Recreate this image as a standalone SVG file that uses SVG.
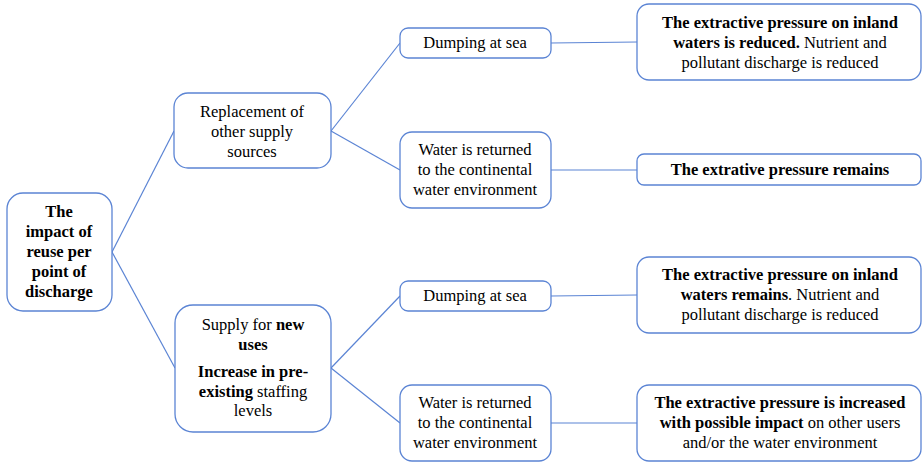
<svg xmlns="http://www.w3.org/2000/svg" width="922" height="462" viewBox="0 0 922 462" font-family="'Times New Roman', 'Liberation Serif', serif">
<style>
.box{fill:#fff;stroke:#5b84d4;stroke-width:1.3}
.ln{stroke:#5b84d4;stroke-width:1.2;fill:none}
.t{font-family:'Times New Roman','Liberation Serif',serif;font-size:16.5px;fill:#000;text-anchor:middle}
.b{font-weight:bold}
</style>
<rect width="922" height="462" fill="#fff"/>
<g id="connectors">
<path class="ln" d="M112,252 L174,131"/>
<path class="ln" d="M112,252 L175,368"/>
<path class="ln" d="M331,131 L400,43"/>
<path class="ln" d="M331,131 L400,170"/>
<path class="ln" d="M331,368 L400,296"/>
<path class="ln" d="M331,368 L400,423"/>
<path class="ln" d="M551,43 L637,42"/>
<path class="ln" d="M551,170 L637,170"/>
<path class="ln" d="M551,296 L637,295"/>
<path class="ln" d="M551,423 L637,423"/>
</g>
<g id="root">
<rect class="box" x="7" y="193" width="105" height="118" rx="16"/>
<text class="t b" x="59" y="217">The</text>
<text class="t b" x="59" y="237">impact of</text>
<text class="t b" x="59" y="257">reuse per</text>
<text class="t b" x="59" y="277">point of</text>
<text class="t b" x="59" y="297">discharge</text>
</g>
<g id="replacement">
<rect class="box" x="174" y="93" width="157" height="75" rx="14"/>
<text class="t" x="252" y="117">Replacement of</text>
<text class="t" x="252" y="137">other supply</text>
<text class="t" x="252" y="157">sources</text>
</g>
<g id="supply">
<rect class="box" x="175" y="305" width="156" height="127" rx="18"/>
<text class="t" x="253" y="330">Supply for <tspan class="b">new</tspan></text>
<text class="t b" x="253" y="350">uses</text>
<text class="t b" x="253" y="377">Increase in pre-</text>
<text class="t" x="253" y="397"><tspan class="b">existing</tspan> staffing</text>
<text class="t" x="253" y="416">levels</text>
</g>
<g id="dump1">
<rect class="box" x="400" y="28" width="151" height="30" rx="8"/>
<text class="t" x="475" y="48">Dumping at sea</text>
</g>
<g id="water1">
<rect class="box" x="400" y="132" width="151" height="76" rx="12"/>
<text class="t" x="475" y="155">Water is returned</text>
<text class="t" x="475" y="175">to the continental</text>
<text class="t" x="475" y="195">water environment</text>
</g>
<g id="dump2">
<rect class="box" x="400" y="281" width="151" height="30" rx="8"/>
<text class="t" x="475" y="301">Dumping at sea</text>
</g>
<g id="water2">
<rect class="box" x="400" y="385" width="151" height="76" rx="12"/>
<text class="t" x="475" y="408">Water is returned</text>
<text class="t" x="475" y="428">to the continental</text>
<text class="t" x="475" y="448">water environment</text>
</g>
<g id="out1">
<rect class="box" x="637" y="4" width="284" height="76" rx="12"/>
<text class="t b" x="780" y="28">The extractive pressure on inland</text>
<text class="t" x="780" y="48"><tspan class="b">waters is reduced.</tspan> Nutrient and</text>
<text class="t" x="780" y="68">pollutant discharge is reduced</text>
</g>
<g id="out2">
<rect class="box" x="637" y="154" width="284" height="31" rx="7"/>
<text class="t b" x="780" y="175">The extrative pressure remains</text>
</g>
<g id="out3">
<rect class="box" x="637" y="257" width="284" height="76" rx="12"/>
<text class="t b" x="780" y="280">The extractive pressure on inland</text>
<text class="t" x="780" y="300"><tspan class="b">waters remains</tspan>. Nutrient and</text>
<text class="t" x="780" y="320">pollutant discharge is reduced</text>
</g>
<g id="out4">
<rect class="box" x="637" y="385" width="284" height="76" rx="12"/>
<text class="t b" x="780" y="408">The extractive pressure is increased</text>
<text class="t" x="780" y="428"><tspan class="b">with possible impact</tspan> on other users</text>
<text class="t" x="780" y="448">and/or the water environment</text>
</g>
</svg>
